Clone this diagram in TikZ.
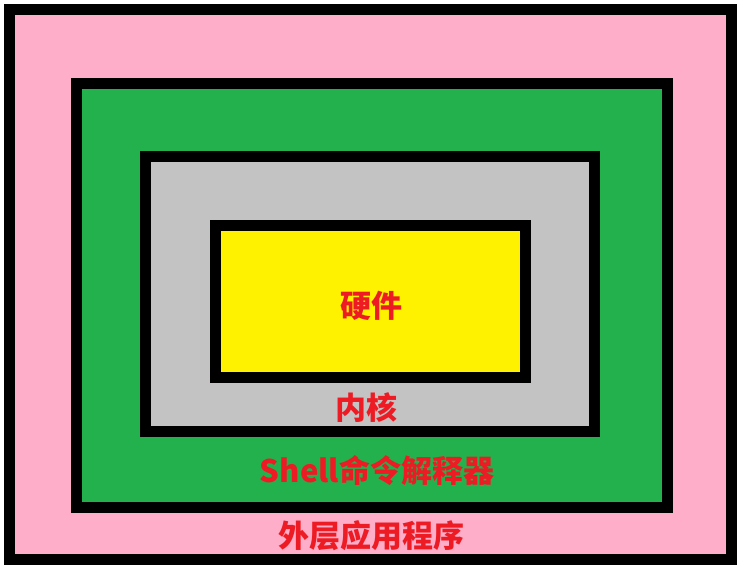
\documentclass[tikz,border=0pt]{standalone}
\usepackage{fontspec}
\newfontfamily\cjk{Noto Sans CJK SC}
\usepackage{xcolor}
\usepackage{tikz}
\usetikzlibrary{positioning}

\definecolor{apppink}{HTML}{FFAEC9}
\definecolor{shellgreen}{HTML}{22B14C}
\definecolor{kernelgray}{HTML}{C3C3C3}
\definecolor{hwyellow}{HTML}{FFF200}
\definecolor{labelred}{HTML}{ED1C24}

\tikzset{
  layer/.style={draw=black, line width=11pt, inner sep=0pt},
  layertext/.style={text=labelred, inner sep=0pt, font=\cjk\bfseries\fontsize{31}{36}\selectfont}
}

\begin{document}
\begin{tikzpicture}[x=1pt, y=-1pt]
\useasboundingbox[fill=white] (0,0) rectangle (739,568);

% Four nested layers
\node[layer, fill=apppink, minimum width=722pt, minimum height=550pt] (app) at (370,284) {};
\node[layer, fill=shellgreen, minimum width=591pt, minimum height=424pt] (shell) at (371.5,295) {};
\node[layer, fill=kernelgray, minimum width=449pt, minimum height=275pt] (kernel) at (370,294) {};
\node[layer, fill=hwyellow, minimum width=310pt, minimum height=152pt] (hw) at (370,301) {};

% Labels
\node[layertext] (hwlabel) at (371,306) {硬件};
\node[layertext] (kernellabel) at (366,408) {内核};
\node[layertext] (shelllabel) at (377,471) {Shell命令解释器};
\node[layertext] (applabel) at (371,536) {外层应用程序};

\end{tikzpicture}
\end{document}
